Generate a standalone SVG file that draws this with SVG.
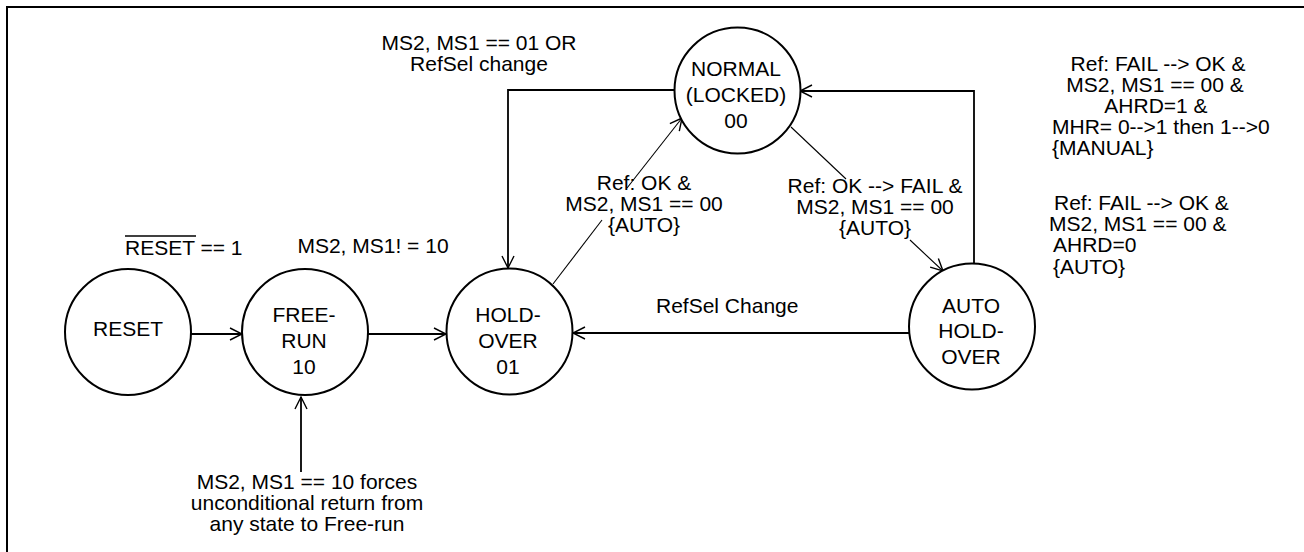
<svg xmlns="http://www.w3.org/2000/svg" width="1304" height="552" viewBox="0 0 1304 552">
<style>
text{font-family:"Liberation Sans",Arial,sans-serif;font-size:21px;fill:#000}
.m{text-anchor:middle}
.node{fill:#fff;stroke:#000;stroke-width:2}
.c{fill:none;stroke:#000;stroke-width:1.8}
.t{fill:none;stroke:#000;stroke-width:1.1}
</style>
<defs>
<marker id="ah" markerUnits="userSpaceOnUse" markerWidth="16" markerHeight="16" viewBox="0 0 16 16" refX="13" refY="8" orient="auto">
<path d="M1,2 L13,8 L1,14" fill="none" stroke="#000" stroke-width="1.4"/>
</marker>
</defs>
<rect x="7" y="7" width="1400" height="600" fill="#fff" stroke="#000" stroke-width="2"/>
<g id="connectors">
<line class="c" x1="191" y1="334" x2="242" y2="334" marker-end="url(#ah)"/>
<line class="c" x1="368" y1="334" x2="446" y2="334" marker-end="url(#ah)"/>
<line class="c" x1="909" y1="333" x2="573" y2="333" marker-end="url(#ah)"/>
<path class="c" d="M674,90 H508 V268" marker-end="url(#ah)"/>
<path class="c" d="M974,264 V91 H800" marker-end="url(#ah)"/>
<line class="c" x1="301" y1="472" x2="301" y2="397" marker-end="url(#ah)"/>
<line class="t" x1="553" y1="284" x2="602" y2="220"/>
<line class="t" x1="627" y1="188" x2="682" y2="118" marker-end="url(#ah)"/>
<line class="t" x1="791" y1="127" x2="846" y2="179"/>
<line class="t" x1="910" y1="240" x2="943" y2="271" marker-end="url(#ah)"/>
</g>
<g id="reset">
<circle class="node" cx="128" cy="332" r="63"/>
<text class="m" x="128" y="336">RESET</text>
</g>
<g id="freerun">
<circle class="node" cx="305" cy="332" r="63"/>
<text class="m" x="304" y="322">FREE-</text>
<text class="m" x="304" y="348">RUN</text>
<text class="m" x="304" y="374">10</text>
</g>
<g id="holdover">
<circle class="node" cx="509.5" cy="331.5" r="63"/>
<text class="m" x="508" y="322">HOLD-</text>
<text class="m" x="508" y="348">OVER</text>
<text class="m" x="508" y="374">01</text>
</g>
<g id="normal">
<circle class="node" cx="737.5" cy="90.5" r="63"/>
<text class="m" x="736" y="76">NORMAL</text>
<text class="m" x="736" y="102">(LOCKED)</text>
<text class="m" x="736" y="128">00</text>
</g>
<g id="autoholdover">
<circle class="node" cx="972" cy="326.5" r="63"/>
<text class="m" x="971" y="313">AUTO</text>
<text class="m" x="971" y="338">HOLD-</text>
<text class="m" x="971" y="364">OVER</text>
</g>
<g id="labels">
<text x="125" y="255">RESET == 1</text>
<line x1="125" y1="236" x2="196" y2="236" stroke="#000" stroke-width="1.5"/>
<text class="m" x="373" y="253">MS2, MS1! = 10</text>
<text class="m" x="479" y="50">MS2, MS1 == 01 OR</text>
<text class="m" x="479" y="71">RefSel change</text>
<text class="m" x="644" y="190">Ref: OK &amp;</text>
<text class="m" x="644" y="211">MS2, MS1 == 00</text>
<text class="m" x="644" y="232">{AUTO}</text>
<text class="m" x="875" y="193">Ref: OK --&gt; FAIL &amp;</text>
<text class="m" x="875" y="214">MS2, MS1 == 00</text>
<text class="m" x="875" y="235">{AUTO}</text>
<text x="656" y="313">RefSel Change</text>
<text class="m" x="307" y="489">MS2, MS1 == 10 forces</text>
<text class="m" x="307" y="510">unconditional return from</text>
<text class="m" x="307" y="531">any state to Free-run</text>
<text class="m" x="1158" y="71">Ref: FAIL --&gt; OK &amp;</text>
<text class="m" x="1155" y="92">MS2, MS1 == 00 &amp;</text>
<text class="m" x="1156" y="113">AHRD=1 &amp;</text>
<text x="1052" y="134">MHR= 0--&gt;1 then 1--&gt;0</text>
<text x="1052" y="155">{MANUAL}</text>
<text x="1054" y="210">Ref: FAIL --&gt; OK &amp;</text>
<text x="1049" y="231">MS2, MS1 == 00 &amp;</text>
<text x="1053" y="252">AHRD=0</text>
<text x="1053" y="274">{AUTO}</text>
</g>
</svg>
